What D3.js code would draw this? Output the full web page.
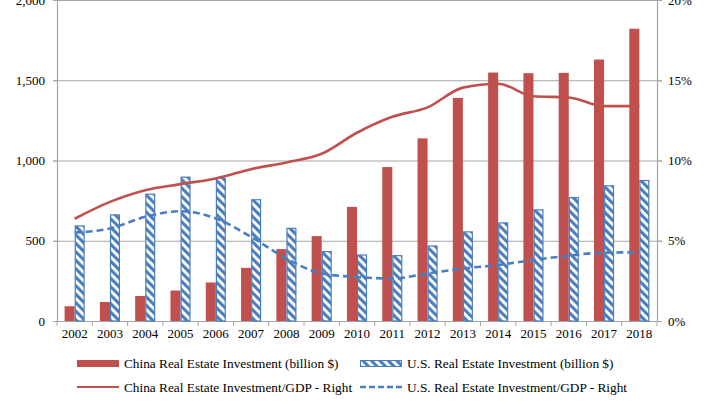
<!DOCTYPE html>
<html><head><meta charset="utf-8">
<script src="https://cdn.jsdelivr.net/npm/d3@7"></script>
<style>body{margin:0;background:#fff}svg{display:block}text{font-family:"Liberation Serif","Times New Roman",serif;fill:#000}</style>
</head><body>
<script>
const years = ["2002","2003","2004","2005","2006","2007","2008","2009","2010","2011","2012","2013","2014","2015","2016","2017","2018"];
const chinaInv = [92,119,156,190,240,331,448,529,711,959,1138,1390,1548,1544,1546,1629,1821];
const usInv = [596,665,794,900,893,759,581,436,415,411,471,559,615,696,773,846,879];
const chinaRatio = [6.37,7.42,8.15,8.53,8.88,9.46,9.88,10.42,11.73,12.72,13.31,14.54,14.78,14.0,13.93,13.39,13.39];
const usRatio = [5.51,5.76,6.49,6.84,6.39,5.24,3.89,2.96,2.74,2.65,2.96,3.27,3.49,3.8,4.07,4.26,4.28];
const leftTicks = [0,500,1000,1500,2000];
const rightTicks = [0,0.05,0.10,0.15,0.20];
const legendLabels = ["China Real Estate Investment (billion $)","U.S. Real Estate Investment (billion $)","China Real Estate Investment/GDP - Right","U.S. Real Estate Investment/GDP - Right"];

const W=720,H=404, L=57, R=657, T=0, B=321;
const RED="#C0504D", BLUE="#4A7EBE", GRID="#A6A6A6";
const svg=d3.select("body").append("svg").attr("width",W).attr("height",H);
const defs=svg.append("defs");
const pat=defs.append("pattern").attr("id","hatch").attr("patternUnits","userSpaceOnUse")
  .attr("width",6).attr("height",6).attr("patternTransform","rotate(-45)");
pat.append("rect").attr("width",6).attr("height",6).attr("fill","#fff");
pat.append("rect").attr("x",0).attr("y",0).attr("width",3.1).attr("height",6).attr("fill",BLUE);

const x=d3.scaleBand().domain(years).range([L,R]).paddingInner(0.43).paddingOuter(0.215);
const xs=d3.scaleBand().domain(["c","u"]).range([0,x.bandwidth()]);
const y=d3.scaleLinear().domain([0,2000]).range([B,T]);
const y2=d3.scaleLinear().domain([0,0.20]).range([B,T]);

// gridlines
svg.append("g").selectAll("line").data(leftTicks.filter(d=>d>0)).join("line")
  .attr("x1",L-4).attr("x2",R+5).attr("y1",d=>y(d)+0.5).attr("y2",d=>y(d)+0.5)
  .attr("stroke",GRID).attr("stroke-width",1);

// axes
const gl=svg.append("g").attr("transform",`translate(${L},0)`)
  .call(d3.axisLeft(y).tickValues(leftTicks).tickFormat(d3.format(",")).tickSize(4).tickPadding(8));
const gr=svg.append("g").attr("transform",`translate(${R},0)`)
  .call(d3.axisRight(y2).tickValues(rightTicks).tickFormat(d3.format(".0%")).tickSize(5).tickPadding(6));
const gb=svg.append("g").attr("transform",`translate(0,${B})`)
  .call(d3.axisBottom(x).tickSize(0).tickPadding(8));
[gl,gr,gb].forEach(g=>{
  g.selectAll("path").attr("stroke",GRID).attr("stroke-width",1.2);
  g.selectAll("line").attr("stroke",GRID);
  g.selectAll("text").style("font-family",'"Liberation Serif",serif').style("font-size","13px").attr("fill","#000");
});
gb.select("path").attr("d",`M${L},0.5H${R}`);
// category boundary ticks
const bounds=d3.range(years.length+1).map(i=>x.range()[0]+i*x.step());
svg.append("g").selectAll("line").data(bounds).join("line")
  .attr("x1",d=>d).attr("x2",d=>d).attr("y1",B).attr("y2",B+5).attr("stroke",GRID);

// bars
svg.append("g").selectAll("rect").data(years).join("rect")
  .attr("x",(d)=>x(d)+xs("c")).attr("width",xs.bandwidth())
  .attr("y",(d,i)=>y(chinaInv[i])).attr("height",(d,i)=>B-y(chinaInv[i])).attr("fill",RED);
svg.append("g").selectAll("rect").data(years).join("rect")
  .attr("x",(d)=>x(d)+xs("u")+0.6).attr("width",xs.bandwidth()-1.2)
  .attr("y",(d,i)=>y(usInv[i])+0.6).attr("height",(d,i)=>B-y(usInv[i])-0.6)
  .attr("fill","url(#hatch)").attr("stroke",BLUE).attr("stroke-width",1.2);

// lines
const cx=d=>x(d)+x.bandwidth()/2;
const lineC=d3.line().x((d,i)=>cx(years[i])).y(d=>y2(d/100)).curve(d3.curveMonotoneX);
svg.append("path").attr("d",lineC(chinaRatio)).attr("fill","none").attr("stroke",RED).attr("stroke-width",2.6);
svg.append("path").attr("d",lineC(usRatio)).attr("fill","none").attr("stroke",BLUE).attr("stroke-width",2.6).attr("stroke-dasharray","7,4");

// legend
const lg=svg.append("g");
const items=[
 {sx:77,tx:124,y:363,type:"bar",color:RED},
 {sx:360,tx:407,y:363,type:"hatch",color:BLUE},
 {sx:77,tx:124,y:387,type:"line",color:RED},
 {sx:360,tx:407,y:387,type:"dash",color:BLUE}];
items.forEach((it,i)=>{
  if(it.type==="bar") lg.append("rect").attr("x",it.sx).attr("y",it.y-3).attr("width",42).attr("height",7).attr("fill",RED);
  if(it.type==="hatch") lg.append("rect").attr("x",it.sx+0.5).attr("y",it.y-2.5).attr("width",41).attr("height",6).attr("fill","url(#hatch)").attr("stroke",BLUE).attr("stroke-width",1);
  if(it.type==="line") lg.append("line").attr("x1",it.sx).attr("x2",it.sx+42).attr("y1",it.y).attr("y2",it.y).attr("stroke",RED).attr("stroke-width",2.2);
  if(it.type==="dash") lg.append("line").attr("x1",it.sx).attr("x2",it.sx+42).attr("y1",it.y).attr("y2",it.y).attr("stroke",BLUE).attr("stroke-width",2.4).attr("stroke-dasharray","6,3");
  lg.append("text").attr("x",it.tx).attr("y",it.y).attr("dy","0.35em").style("font-size","13.3px").text(legendLabels[i]);
});
</script>
</body></html>
